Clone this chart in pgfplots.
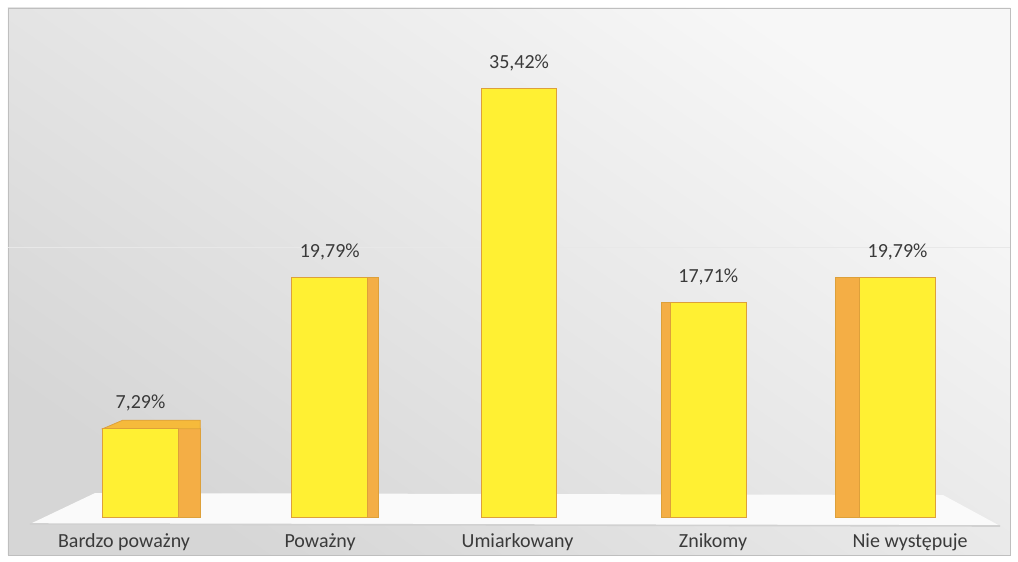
\documentclass[border=0pt]{standalone}
\usepackage{fontspec}
\setmainfont{Carlito}
\usepackage{pgfplots}
\pgfplotsset{compat=1.18}
\definecolor{frontY}{HTML}{FFF033}
\definecolor{sideO}{HTML}{F4AE45}
\definecolor{edgeO}{HTML}{DDA03A}
\definecolor{txt}{HTML}{3A3A3A}
\begin{document}
\begin{tikzpicture}
\useasboundingbox (-4pt,-3.5pt) rectangle (505pt,277.5pt);
\fill[white] (-4pt,-3.5pt) rectangle (505pt,277.5pt);
\begin{axis}[
  at={(0,0)}, anchor=south west,
  scale only axis, width=501pt, height=273.5pt,
  xmin=-0.700, xmax=4.594, ymin=-3.14, ymax=42.07,
  ybar,
  axis background/.style={shade, top color=white!97!black, bottom color=black!16, shading angle=-35},
  axis line style={draw=black!25},
  ytick=\empty,
  xtick={-0.087,0.949,1.992,3.025,4.066},
  xticklabels={Bardzo poważny,Poważny,Umiarkowany,Znikomy,Nie występuje},
  tick style={draw=none}, major tick length=0pt,
  x tick label style={anchor=base, yshift=3.85pt, font=\fontsize{10}{12}\selectfont, text=txt},
  clip=false,
]
% faint back-wall line
\draw[black!9, line width=0.6pt] (axis cs:-0.700,22.3) -- (axis cs:4.594,22.3);
% floor
\fill[white!98!black] (axis cs:-0.584,-0.579) -- (axis cs:4.542,-0.744) -- (axis cs:4.240,1.818) -- (axis cs:-0.240,1.983) -- cycle;
\draw[black!18, line width=0.8pt] (axis cs:-0.584,-0.579) -- (axis cs:4.542,-0.744);
% side faces
\addplot[fill=sideO, draw=edgeO, line width=0.4pt, bar width=0.116, bar shift=0.258] coordinates {(0,7.29)};
\addplot[fill=sideO, draw=edgeO, line width=0.4pt, bar width=0.058, bar shift=0.229] coordinates {(1,19.79)};
\addplot[fill=sideO, draw=edgeO, line width=0.4pt, bar width=0.048, bar shift=-0.224] coordinates {(3,17.71)};
\addplot[fill=sideO, draw=edgeO, line width=0.4pt, bar width=0.127, bar shift=-0.263] coordinates {(4,19.79)};
% top face of the first bar
\addplot[sharp plot, fill=sideO!85!yellow, draw=edgeO, line width=0.4pt, mark=none] coordinates {(-0.2,7.29) (0.316,7.29) (0.316,8.0) (-0.094,8.0)} -- cycle;
% front faces
\addplot[fill=frontY, draw=edgeO, line width=0.5pt, bar width=0.40, bar shift=0,
  point meta=y,
  nodes near coords={\pgfmathprintnumber[assume math mode=true, fixed, fixed zerofill, precision=2, use comma]{\pgfplotspointmeta}\%},
  every node near coord/.append style={anchor=base, yshift=10pt, font=\fontsize{10}{12}\selectfont, text=txt},
] coordinates {(0,7.29) (1,19.79) (2,35.42) (3,17.71) (4,19.79)};
\end{axis}
\end{tikzpicture}
\end{document}
